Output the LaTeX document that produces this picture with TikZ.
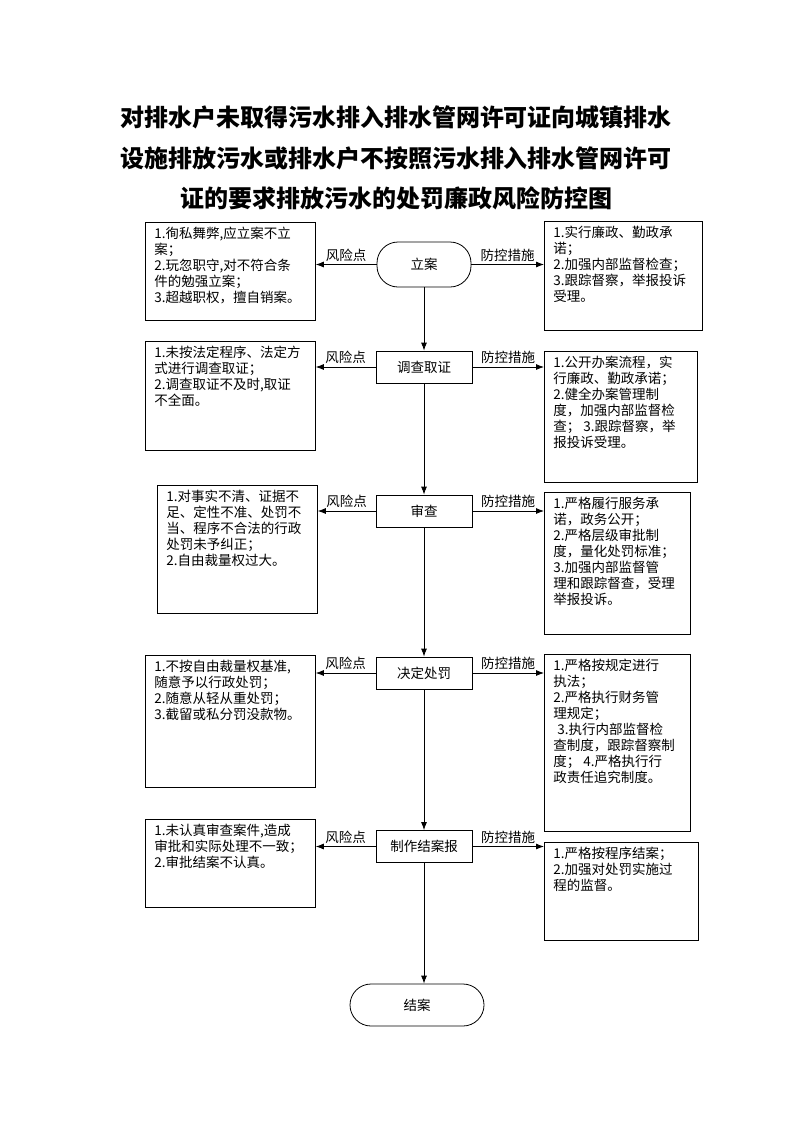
\documentclass[tikz,border=0pt]{standalone}
\usepackage{fontspec}
\setmainfont{Noto Sans CJK SC}
\usetikzlibrary{arrows.meta}

\begin{document}
\begin{tikzpicture}[x=1pt,y=-1pt]
\tikzset{
  stepnode/.style={draw, line width=0.8pt, minimum width=96pt, minimum height=32pt,
    inner sep=2pt, font=\fontsize{13.5}{16}\selectfont},
  endnode/.style={stepnode, rounded corners=21pt, minimum width=94pt, minimum height=45pt},
  notebox/.style={draw, line width=0.8pt, anchor=north west, inner xsep=9pt, inner ysep=5pt,
    font=\fontsize{13.5}{16}\selectfont},
  flow/.style={-{Latex[length=8pt,width=6pt]}, line width=0.8pt},
  lab/.style={font=\fontsize{13.5}{16}\selectfont, inner sep=3pt},
  titleline/.style={font=\fontsize{24}{28}\selectfont\bfseries, inner sep=0pt}
}
\useasboundingbox (0,0) rectangle (793,1122);

% title
\node[titleline] (title1) at (396,117) {对排水户未取得污水排入排水管网许可证向城镇排水};
\node[titleline] (title2) at (396,158) {设施排放污水或排水户不按照污水排入排水管网许可};
\node[titleline] (title3) at (396,198) {证的要求排放污水的处罚廉政风险防控图};

% main flow
\node[endnode] (filing) at (424,264.5) {立案};
\node[stepnode] (survey) at (424,367) {调查取证};
\node[stepnode] (review) at (424,511) {审查};
\node[stepnode] (decide) at (424,673) {决定处罚};
\node[stepnode] (report) at (424,846.5) {制作结案报};
\node[endnode, minimum width=134pt, minimum height=42pt] (closing) at (417,1005) {结案};

% risk points
\node[notebox] (risk1) at (145,222) {\parbox[t][88pt][t]{152pt}{\raggedright
  1.徇私舞弊,应立案不立\\案；\\2.玩忽职守,对不符合条\\件的勉强立案；\\3.超越职权，擅自销案。}};
\node[notebox] (risk2) at (145,341) {\parbox[t][99pt][t]{152pt}{\raggedright
  1.未按法定程序、法定方\\式进行调查取证；\\2.调查取证不及时,取证\\不全面。}};
\node[notebox] (risk3) at (157,485) {\parbox[t][118pt][t]{142pt}{\raggedright
  1.对事实不清、证据不\\足、定性不准、处罚不\\当、程序不合法的行政\\处罚未予纠正；\\2.自由裁量权过大。}};
\node[notebox] (risk4) at (145,655) {\parbox[t][122pt][t]{152pt}{\raggedright
  1.不按自由裁量权基准,\\随意予以行政处罚；\\2.随意从轻从重处罚；\\3.截留或私分罚没款物。}};
\node[notebox] (risk5) at (145,819) {\parbox[t][78pt][t]{152pt}{\raggedright
  1.未认真审查案件,造成\\审批和实际处理不一致；\\2.审批结案不认真。}};

% control measures
\node[notebox] (ctrl1) at (544,221) {\parbox[t][99pt][t]{140pt}{\raggedright
  1.实行廉政、勤政承\\诺；\\2.加强内部监督检查；\\3.跟踪督察，举报投诉\\受理。}};
\node[notebox] (ctrl2) at (544,351) {\parbox[t][121pt][t]{135pt}{\raggedright
  1.公开办案流程，实\\行廉政、勤政承诺；\\2.健全办案管理制\\度，加强内部监督检\\查； 3.跟踪督察，举\\报投诉受理。}};
\node[notebox] (ctrl3) at (544,492) {\parbox[t][132pt][t]{128pt}{\raggedright
  1.严格履行服务承\\诺，政务公开；\\2.严格层级审批制\\度，量化处罚标准；\\3.加强内部监督管\\理和跟踪督查，受理\\举报投诉。}};
\node[notebox] (ctrl4) at (544,654) {\parbox[t][167pt][t]{128pt}{\raggedright
  1.严格按规定进行\\执法；\\2.严格执行财务管\\理规定；\\\hspace*{0.3em}3.执行内部监督检\\查制度，跟踪督察制\\度； 4.严格执行行\\政责任追究制度。}};
\node[notebox] (ctrl5) at (544,842) {\parbox[t][88pt][t]{136pt}{\raggedright
  1.严格按程序结案；\\2.加强对处罚实施过\\程的监督。}};

% connectors
\draw[flow] (filing) -- (survey);
\draw[flow] (survey) -- (review);
\draw[flow] (review) -- (decide);
\draw[flow] (decide) -- (report);
\draw[flow] (report.south) -- (report.south |- closing.north);

\draw[flow] (filing.west) -- node[lab, above] {风险点} (risk1.east |- filing.west);
\draw[flow] (filing.east) -- node[lab, above] {防控措施} (ctrl1.west |- filing.east);
\draw[flow] (survey.west) -- node[lab, above] {风险点} (risk2.east |- survey.west);
\draw[flow] (survey.east) -- node[lab, above] {防控措施} (ctrl2.west |- survey.east);
\draw[flow] (review.west) -- node[lab, above] {风险点} (risk3.east |- review.west);
\draw[flow] (review.east) -- node[lab, above] {防控措施} (ctrl3.west |- review.east);
\draw[flow] (decide.west) -- node[lab, above] {风险点} (risk4.east |- decide.west);
\draw[flow] (decide.east) -- node[lab, above] {防控措施} (ctrl4.west |- decide.east);
\draw[flow] (report.west) -- node[lab, above] {风险点} (risk5.east |- report.west);
\draw[flow] (report.east) -- node[lab, above] {防控措施} (ctrl5.west |- report.east);
\end{tikzpicture}
\end{document}
